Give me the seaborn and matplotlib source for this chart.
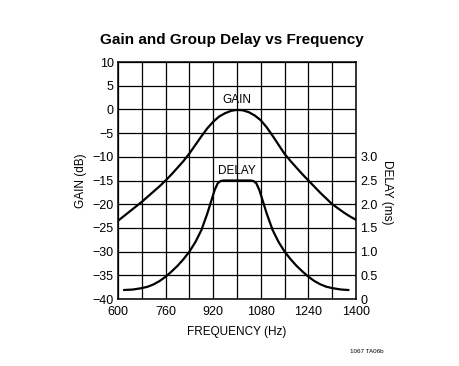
import numpy as np
import pandas as pd
import matplotlib
matplotlib.use("Agg")
import matplotlib.pyplot as plt
import seaborn as sns

# gain curve (dB) vs frequency (Hz)
gain_freq = [600, 620, 640, 660, 680, 700, 720, 740, 760, 780, 800, 820, 840, 860,
             880, 900, 920, 940, 960, 980, 1000, 1020, 1040, 1060, 1080, 1100,
             1120, 1140, 1160, 1180, 1200, 1220, 1240, 1260, 1280, 1300, 1320,
             1340, 1360, 1380, 1400]
gain_db = [-23.5, -22.5, -21.5, -20.5, -19.5, -18.4, -17.3, -16.2, -15.0, -13.7,
           -12.3, -10.9, -9.3, -7.5, -5.7, -4.0, -2.6, -1.5, -0.8, -0.3, -0.1,
           -0.2, -0.6, -1.3, -2.3, -3.8, -5.6, -7.5, -9.4, -10.9, -12.3, -13.7,
           -15.0, -16.3, -17.6, -18.8, -20.0, -20.9, -21.8, -22.6, -23.3]

# group delay curve (ms) vs frequency (Hz)
delay_freq = [620, 650, 680, 700, 720, 740, 760, 780, 800, 820, 840, 860, 880, 900,
              915, 925, 935, 945, 955, 1000, 1045, 1055, 1065, 1075, 1085, 1100,
              1120, 1140, 1160, 1180, 1200, 1220, 1240, 1260, 1280, 1300, 1320,
              1350, 1375]
delay_ms = [0.19, 0.20, 0.23, 0.26, 0.31, 0.38, 0.47, 0.58, 0.70, 0.84, 1.00, 1.20,
            1.45, 1.80, 2.10, 2.30, 2.44, 2.49, 2.50, 2.50, 2.50, 2.49, 2.44, 2.30,
            2.10, 1.80, 1.45, 1.20, 1.00, 0.84, 0.70, 0.58, 0.47, 0.38, 0.31, 0.26,
            0.23, 0.20, 0.19]

x_ticks = [600, 760, 920, 1080, 1240, 1400]
gain_ticks = list(range(-40, 11, 5))
delay_ticks = [0, 0.5, 1.0, 1.5, 2.0, 2.5, 3.0]
delay_labels = ["0", "0.5", "1.0", "1.5", "2.0", "2.5", "3.0"]

sns.set_style("white")
plt.rcParams['font.family'] = ['Liberation Sans', 'DejaVu Sans']
plt.rcParams['text.color'] = 'black'
plt.rcParams['axes.labelcolor'] = 'black'
plt.rcParams['xtick.color'] = 'black'
plt.rcParams['ytick.color'] = 'black'

fig = plt.figure(figsize=(4.6, 3.66), dpi=100)
ax = fig.add_axes([0.2565, 0.183, 0.5175, 0.6476])

gain_df = pd.DataFrame({"freq": gain_freq, "gain": gain_db})
delay_df = pd.DataFrame({"freq": delay_freq, "delay": delay_ms})

sns.lineplot(data=gain_df, x="freq", y="gain", ax=ax, color="black", linewidth=1.6)
ax.set_xlim(600, 1400)
ax.set_ylim(-40, 10)
ax.set_xticks(np.arange(600, 1401, 80), minor=True)
ax.set_xticks(x_ticks)
ax.set_yticks(gain_ticks)
ax.set_yticklabels([str(t).replace("-", "\u2212") for t in gain_ticks])
ax.grid(True, which="both", color="black", linewidth=0.9)
ax.tick_params(which="both", length=0, labelsize=9, pad=3)
ax.tick_params(axis="x", pad=5)
ax.set_xlabel("FREQUENCY (Hz)", fontsize=8.5, labelpad=6)
ax.set_ylabel("GAIN (dB)", fontsize=8.5, labelpad=4)
for s in ax.spines.values():
    s.set_color("black")
    s.set_linewidth(1.1)

ax2 = ax.twinx()
sns.lineplot(data=delay_df, x="freq", y="delay", ax=ax2, color="black", linewidth=1.6)
ax2.set_ylim(0, 5)
ax2.set_yticks(delay_ticks)
ax2.set_yticklabels(delay_labels)
ax2.tick_params(length=0, labelsize=9, pad=3)
ax2.set_ylabel("DELAY (ms)", fontsize=8.5, rotation=270, labelpad=10)
ax2.yaxis.set_label_coords(1.155, 0.45)
ax2.grid(False)
for s in ax2.spines.values():
    s.set_visible(False)

ax.text(1000, 0.8, "GAIN", ha="center", va="bottom", fontsize=8.5)
ax2.text(1000, 2.58, "DELAY", ha="center", va="bottom", fontsize=8.5)

fig.suptitle("Gain and Group Delay vs Frequency", fontsize=11, fontweight="bold",
             x=0.505, y=0.91)
fig.text(0.76, 0.035, "1067 TA06b", fontsize=4.5)

fig.savefig("out.png", dpi=100)
